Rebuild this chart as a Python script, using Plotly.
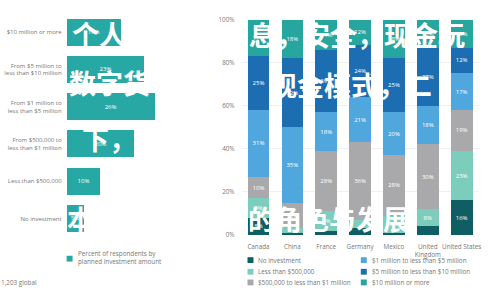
import plotly.graph_objects as go

# ---------------- data ----------------
# Left chart: global share of respondents by planned investment (top to bottom)
amount_labels = [
    "$10 million or more",
    "From $5 million to<br>less than $10 million",
    "From $1 million to<br>less than $5 million",
    "From $500,000 to<br>less than $1 million",
    "Less than $500,000",
    "No investment",
]
amount_values = [16, 23, 26, 20, 10, 5]

# Right chart: by country
countries = ["Canada", "China", "France", "Germany", "Mexico", "United Kingdom", "United States"]
country_ticks = ["Canada", "China", "France", "Germany", "Mexico", "United<br>Kingdom", "United States"]

series_names = [
    "No investment",
    "Less than $500,000",
    "$500,000 to less than $1 million",
    "$1 million to less than $5 million",
    "$5 million to less than $10 million",
    "$10 million or more",
]
no_investment = [8, 1, 2, 3, 1, 4, 16]
less_500k = [9, 2, 9, 4, 8, 8, 23]
k500_to_1m = [10, 12, 28, 36, 28, 30, 19]
m1_to_5m = [31, 35, 18, 21, 20, 18, 17]
m5_to_10m = [25, 32, 29, 24, 25, 27, 12]
m10_plus = [17, 18, 14, 12, 18, 13, 13]
series_values = [no_investment, less_500k, k500_to_1m, m1_to_5m, m5_to_10m, m10_plus]

series_colors = ["#0E5E63", "#7DCDBD", "#A9A9AB", "#4FA7DD", "#1D6DB2", "#27A59F"]
left_color = "#28A8A5"

y_ticks = [0, 20, 40, 60, 80, 100]

# ---------------- figure ----------------
W, H = 500, 300
def px(x):
    return x / W
def py(y):
    return 1 - y / H

fig = go.Figure()

fig.add_trace(go.Bar(
    x=amount_values, y=amount_labels, orientation="h",
    marker=dict(color=left_color, line=dict(width=0)),
    text=[f"{v}%" for v in amount_values], textposition="inside",
    insidetextanchor="middle", textangle=0,
    textfont=dict(color="white", size=6, family="Open Sans"),
    xaxis="x", yaxis="y", showlegend=False, hoverinfo="skip", width=0.73,
))

for name, vals, col in zip(series_names, series_values, series_colors):
    fig.add_trace(go.Bar(
        x=countries, y=vals, name=name,
        marker=dict(color=col, line=dict(width=0)),
        text=[f"{v}%" for v in vals], textposition="inside",
        insidetextanchor="middle", textangle=0,
        textfont=dict(color="white", size=6, family="Open Sans"),
        xaxis="x2", yaxis="y2", showlegend=False, hoverinfo="skip", width=0.64,
    ))

grey = "#777777"
fig.update_layout(
    width=W, height=H,
    margin=dict(l=0, r=0, t=0, b=0),
    paper_bgcolor="white", plot_bgcolor="white",
    barmode="stack",
    uniformtext=dict(minsize=6, mode="hide"),
    font=dict(family="Open Sans", color=grey, size=7),
    xaxis=dict(domain=[px(67), px(200)], range=[0, 39.1], visible=False, fixedrange=True),
    yaxis=dict(domain=[py(239.2), py(8.8)], type="category",
               categoryorder="array", categoryarray=amount_labels[::-1],
               showgrid=False, zeroline=False, showline=False, ticks="",
               ticklabelstandoff=4, tickfont=dict(size=6, color=grey)),
    xaxis2=dict(domain=[px(243), px(481.5)], anchor="y2", type="category",
                tickvals=countries, ticktext=country_ticks, showline=False,
                tickangle=0, ticks="", ticklabelstandoff=7,
                tickfont=dict(size=6.3, color=grey)),
    yaxis2=dict(domain=[py(237), py(15)], anchor="x2", range=[0, 100],
                tickvals=y_ticks, ticktext=[f"{t}%" for t in y_ticks],
                showgrid=True, gridcolor="#f0f0f0", gridwidth=0.6, zeroline=False,
                ticks="", ticklabelstandoff=6, tickfont=dict(size=6.3, color=grey)),
)

shapes = []
annotations = []

# left legend
shapes.append(dict(type="rect", xref="paper", yref="paper",
                   x0=px(67), x1=px(73), y0=py(264.5), y1=py(258.5),
                   fillcolor=left_color, line=dict(width=0)))
annotations.append(dict(xref="paper", yref="paper", x=px(76), y=py(260.5),
                        xanchor="left", yanchor="middle", align="left", showarrow=False,
                        text="Percent of respondents by<br>planned investment amount",
                        font=dict(size=6.3, color=grey)))

# right legend (two columns)
col_x = [249, 363]
row_y = [263, 275, 286]
for i, (name, col) in enumerate(zip(series_names, series_colors)):
    c, r = divmod(i, 3)
    x0, yc = col_x[c], row_y[r]
    shapes.append(dict(type="rect", xref="paper", yref="paper",
                       x0=px(x0), x1=px(x0 + 6), y0=py(yc + 3), y1=py(yc - 3),
                       fillcolor=col, line=dict(width=0)))
    annotations.append(dict(xref="paper", yref="paper", x=px(x0 + 9), y=py(yc),
                            xanchor="left", yanchor="middle", showarrow=False,
                            text=name, font=dict(size=6.3, color=grey)))

annotations.append(dict(xref="paper", yref="paper", x=px(39), y=py(286),
                        xanchor="right", yanchor="middle", showarrow=False,
                        text="n= 1,203 global", font=dict(size=6.3, color=grey)))

# overlaid watermark text (white)
wm_font = dict(family="Noto Sans CJK SC", size=27, color="white")
wm = [
    ("个人", 70, 29),
    ("息，安全，现金玩", 248, 30),
    ("数字货", 67, 80),
    ("现金模式，二", 270, 82),
    ("下，", 80, 138),
    ("本", 65, 220),
    ("的角色与发展", 247, 220),
]
for txt, x, y in wm:
    annotations.append(dict(xref="paper", yref="paper", x=px(x), y=py(y),
                            xanchor="left", yanchor="middle", showarrow=False,
                            text=f"<b>{txt}</b>", font=wm_font))

fig.update_layout(shapes=shapes, annotations=annotations)
fig.write_html("out.html")
